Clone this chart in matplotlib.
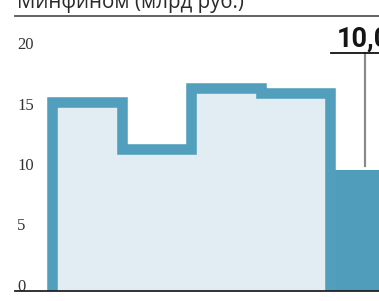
import matplotlib
matplotlib.use("Agg")
import matplotlib.pyplot as plt
import numpy as np

# ---- data ----
step_values = [15.6, 11.7, 16.8, 16.4]
last_value = 10.0
y_ticks = [0, 5, 10, 15, 20]
tick_labels = ["0", "5", "10", "15", "20"]
title = "Минфином (млрд руб.)"
last_label = "10,0"

outline_color = "#519ebd"
light_color = "#e1edf3"
dark_color = "#4f9dbb"

W, H = 379, 301
fig = plt.figure(figsize=(W / 100, H / 100), dpi=100)
ax = fig.add_axes([0, 10 / H, 1, 291 / H])
px_per_cat = 69.5
x0 = -0.5 - 52 / px_per_cat
ax.set_xlim(x0, x0 + W / px_per_cat)
ax.set_ylim(0, 291 / 12.1)
ax.axis("off")

idx = np.arange(len(step_values))
ax.bar(idx, step_values, width=1.0, color=light_color, zorder=1)
ax.bar(len(step_values), last_value, width=1.0, color=dark_color, zorder=1)

# step outline
xs = [idx[0] - 0.5]
ys = [0]
for i, v in enumerate(step_values):
    xs += [i - 0.5, i + 0.5]
    ys += [v, v]
xs.append(idx[-1] + 0.5)
ys.append(0)
ax.plot(xs, ys, color=outline_color, lw=7.6, solid_joinstyle="miter",
        solid_capstyle="butt", zorder=3)

# baseline
ax.axhline(0, xmin=15 / W, xmax=1, color="#222222", lw=1.3, clip_on=False, zorder=5)

# y tick labels
for t, lab in zip(y_ticks, tick_labels):
    ax.text(17 / W, t, lab, transform=ax.get_yaxis_transform(), ha="left",
            va="baseline", fontsize=12, family="Liberation Serif", color="#333333")

# title rule + title
ax.axhline((291 - 16) / 12.1, xmin=15 / W, xmax=1, color="#555555", lw=1.3, clip_on=False)
fig.text(17 / W, 1 - 8.3 / H, title, ha="left", va="baseline", fontsize=14.8,
         family="Open Sans", color="#2a2a2a")

# last value annotation
xl = len(step_values)
y_rule = (291 - 53) / 12.1
ax.plot([xl, xl], [last_value + 0.3, y_rule], color="#8a8a8a", lw=1.6, zorder=4)
ax.plot([xl - 0.49, xl + 0.6], [y_rule] * 2, color="#111111", lw=1.3,
        clip_on=False, zorder=4)
ax.text(xl - 0.40, (291 - 47) / 12.1, last_label, ha="left", va="baseline",
        fontsize=19.5, fontweight="bold", family="Roboto", color="#151515")

fig.savefig("out.png", dpi=100)
